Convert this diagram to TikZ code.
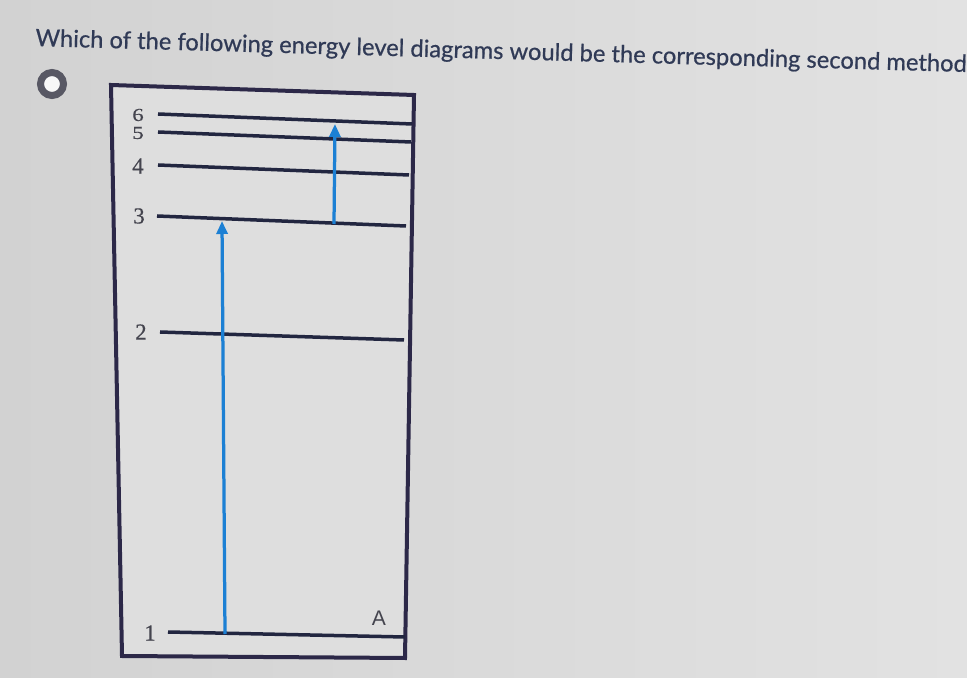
\documentclass[tikz,border=0pt]{standalone}
\usepackage{fontspec}
\newfontfamily\questionfont[FakeBold=0.6]{Lato}
\newfontfamily\levelfont[FakeBold=0.5]{Liberation Serif}
\newfontfamily\markfont{Liberation Sans}
\usetikzlibrary{arrows.meta}

\definecolor{screenl}{RGB}{210,210,210}
\definecolor{screenr}{RGB}{226,226,226}
\definecolor{paneink}{RGB}{222,222,222}
\definecolor{frameink}{RGB}{44,40,72}
\definecolor{levelink}{RGB}{34,38,64}
\definecolor{jumpblue}{RGB}{28,128,212}
\definecolor{numgray}{RGB}{68,68,78}
\definecolor{questionink}{RGB}{48,58,86}
\definecolor{ringgray}{RGB}{88,88,100}

\begin{document}
\begin{tikzpicture}[x=0.02cm,y=-0.02cm,
    frame/.style={line width=0.08cm, draw=frameink, fill=paneink},
    level/.style={line width=0.07cm, draw=levelink},
    jump/.style={line width=0.065cm, draw=jumpblue,
      -{Triangle[length=0.26cm,width=0.22cm]}},
    levelno/.style={font=\levelfont\fontsize{13}{14}\selectfont,
      text=numgray, inner sep=0pt}]
    \useasboundingbox (0,0) rectangle (967,678);
    {

    % Screen background
    \shade [left color=screenl, right color=screenr] (0,0) rectangle (967,678);%

    % Question text
    \node (question) [anchor=base west, rotate=-1.6, inner sep=0pt,
      text=questionink, font=\questionfont\fontsize{13.5}{16}\selectfont]
      at (35,46) {Which of the following energy level diagrams would be the corresponding second method};%

    % Radio button
    \node (pick) [circle, draw=ringgray, line width=0.14cm, fill=white!94!gray,
      minimum size=0.46cm, inner sep=0pt] at (52,84) {};%

    % Drawing frame
    \draw [frame] (111,85) -- (414,95) -- (405,658) -- (122,656) -- cycle;%

    % Level end points
    \coordinate (e6w) at (158,114); \coordinate (e6e) at (412,124);%
    \coordinate (e5w) at (158,132); \coordinate (e5e) at (411,142);%
    \coordinate (e4w) at (158,165); \coordinate (e4e) at (409,175);%
    \coordinate (e3w) at (157,216); \coordinate (e3e) at (406,226);%
    \coordinate (e2w) at (160,332); \coordinate (e2e) at (404,340);%
    \coordinate (e1w) at (168,632); \coordinate (e1e) at (405,637);%

    % Drawing levels 6 to 1
    \draw [level] (e6w) -- (e6e);%
    \draw [level] (e5w) -- (e5e);%
    \draw [level] (e4w) -- (e4e);%
    \draw [level] (e3w) -- (e3e);%
    \draw [level] (e2w) -- (e2e);%
    \draw [level] (e1w) -- (e1e);%

    % Marking levels
    \node (n6) [levelno, yscale=0.8] at (138,115) {6};%
    \node (n5) [levelno, yscale=0.8] at (138,133) {5};%
    \node (n4) [levelno] at (138,166) {4};%
    \node (n3) [levelno] at (139,216) {3};%
    \node (n2) [levelno] at (141,332) {2};%
    \node (n1) [levelno] at (150,633) {1};%

    % Arrow feet and tips
    \coordinate (j1foot) at (225,634); \coordinate (j1tip) at (222,221);%
    \coordinate (j2foot) at (334,224); \coordinate (j2tip) at (335,124);%

    % Drawing jumps 1 -> 3 and 3 -> 6
    \draw [jump] (j1foot) -- (j1tip);%
    \draw [jump] (j2foot) -- (j2tip);%

    % Marking diagram A
    \node (tag) [inner sep=0pt, text=numgray,
      font=\markfont\fontsize{12}{14}\selectfont] at (379,618) {A};%
    }
\end{tikzpicture}
\end{document}
